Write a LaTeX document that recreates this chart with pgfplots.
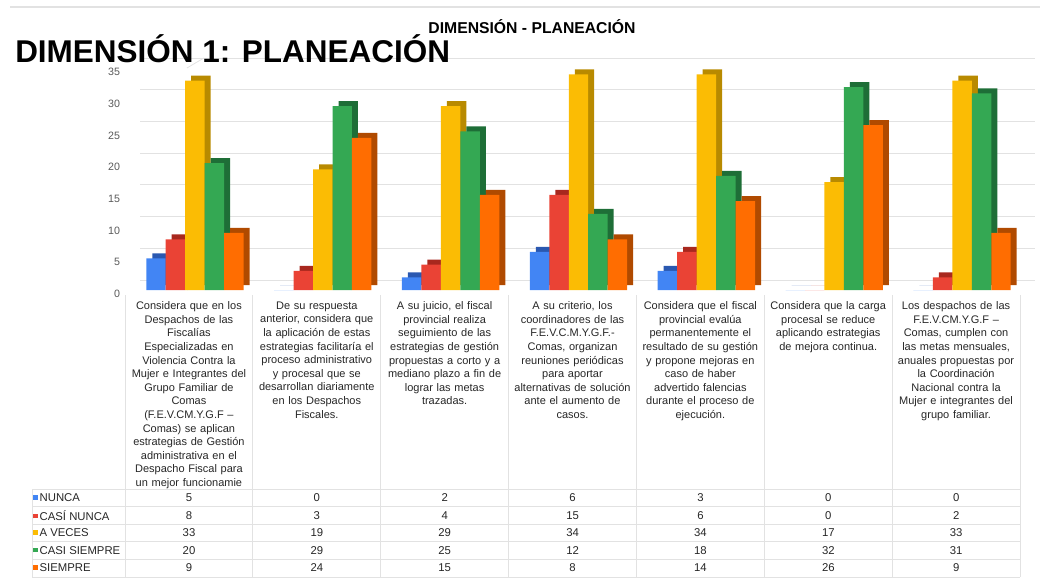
\documentclass[border=0pt]{standalone}
\usepackage{fontspec}
\setmainfont{Liberation Sans}
\usepackage{pgfplots}
\pgfplotsset{compat=1.18}
\usepackage{pgfplotstable}
\definecolor{bluef}{HTML}{4285F4}\definecolor{blueb}{HTML}{2A58B0}
\definecolor{redf}{HTML}{EA4335}\definecolor{redb}{HTML}{A8281E}
\definecolor{yelf}{HTML}{FBBC04}\definecolor{yelb}{HTML}{B88A00}
\definecolor{grnf}{HTML}{34A853}\definecolor{grnb}{HTML}{1E6E37}
\definecolor{orgf}{HTML}{FF6D01}\definecolor{orgb}{HTML}{B04A00}
\definecolor{gridc}{HTML}{E2E2E2}
\pgfplotstableread{
x nunca casinunca aveces casisiempre siempre
0 5 8 33 20 9
1 0 3 19 29 24
2 2 4 29 25 15
3 6 15 34 12 8
4 3 6 34 18 14
5 0 0 17 32 26
6 0 2 33 31 9
}\datatable
\begin{document}
\begin{tikzpicture}
\useasboundingbox (0,0) rectangle (780pt,-435.75pt);
\begin{scope}[x=0.75pt,y=-0.75pt]
  \draw[gridc, line width=0.8pt] (10,7) -- (1040,7);
\end{scope}
\begin{axis}[
  at={(93.75pt,-217.5pt)}, anchor=south west,
  scale only axis, width=671.25pt, height=166.5pt,
  xmin=-0.5, xmax=6.5, ymin=0, ymax=35,
  ybar, bar width=14.6pt,
  ytick={0,5,...,35},
  xtick={0,...,6},
  xticklabels={
    {Considera que en los\\Despachos de las\\Fiscalías\\Especializadas en\\Violencia Contra la\\Mujer e Integrantes del\\Grupo Familiar de\\Comas\\(F.E.V.CM.Y.G.F –\\Comas) se aplican\\estrategias de Gestión\\administrativa en el\\Despacho Fiscal para\\un mejor funcionamie},
    {De su respuesta\\anterior, considera que\\la aplicación de estas\\estrategias facilitaría el\\proceso administrativo\\y procesal que se\\desarrollan diariamente\\en los Despachos\\Fiscales.},
    {A su juicio, el fiscal\\provincial realiza\\seguimiento de las\\estrategias de gestión\\propuestas a corto y a\\mediano plazo a fin de\\lograr las metas\\trazadas.},
    {A su criterio, los\\coordinadores de las\\F.E.V.C.M.Y.G.F.-\\Comas, organizan\\reuniones periódicas\\para aportar\\alternativas de solución\\ante el aumento de\\casos.},
    {Considera que el fiscal\\provincial evalúa\\permanentemente el\\resultado de su gestión\\y propone mejoras en\\caso de haber\\advertido falencias\\durante el proceso de\\ejecución.},
    {Considera que la carga\\procesal se reduce\\aplicando estrategias\\de mejora continua.},
    {Los despachos de las\\F.E.V.CM.Y.G.F –\\Comas, cumplen con\\las metas mensuales,\\anuales propuestas por\\la Coordinación\\Nacional contra la\\Mujer e integrantes del\\grupo familiar.}
  },
  xticklabel style={font=\fontsize{8.25}{10.2}\selectfont, text=black!85, align=center, anchor=north, text width=94pt, yshift=-1pt},
  yticklabel style={font=\fontsize{8}{9}\selectfont, text=black!65, xshift=-3pt, yshift=-3pt, inner sep=0.5pt},
  /pgf/number format/assume math mode=true,
  axis line style={draw=none}, major tick style={draw=none},
  ymajorgrids, major grid style={draw=gridc, line width=0.6pt, xshift=11.25pt, yshift=7.5pt},
  clip=false,
]
\pgfplotsinvokeforeach{0,5,...,35}{\draw[gridc, line width=0.6pt] (axis cs:-0.5,#1) ++(-1.5pt,0) -- ++(12.75pt,7.5pt);}
\addplot[fill=blueb, draw=none, bar shift=-24.7pt, xshift=4.5pt, yshift=3.75pt] table[x=x,y=nunca]{\datatable};
\addplot[fill=bluef, draw=none, bar shift=-24.7pt] table[x=x,y=nunca]{\datatable};
\addplot[fill=redb, draw=none, bar shift=-10.1pt, xshift=4.5pt, yshift=3.75pt] table[x=x,y=casinunca]{\datatable};
\addplot[fill=redf, draw=none, bar shift=-10.1pt] table[x=x,y=casinunca]{\datatable};
\addplot[fill=yelb, draw=none, bar shift=4.5pt, xshift=4.5pt, yshift=3.75pt] table[x=x,y=aveces]{\datatable};
\addplot[fill=yelf, draw=none, bar shift=4.5pt] table[x=x,y=aveces]{\datatable};
\addplot[fill=grnb, draw=none, bar shift=19.1pt, xshift=4.5pt, yshift=3.75pt] table[x=x,y=casisiempre]{\datatable};
\addplot[fill=grnf, draw=none, bar shift=19.1pt] table[x=x,y=casisiempre]{\datatable};
\addplot[fill=orgb, draw=none, bar shift=33.7pt, xshift=4.5pt, yshift=3.75pt] table[x=x,y=siempre]{\datatable};
\addplot[fill=orgf, draw=none, bar shift=33.7pt] table[x=x,y=siempre]{\datatable};
\end{axis}
\begin{scope}[x=0.75pt,y=-0.75pt]
  % titles
  \node[anchor=base, inner sep=0, font=\bfseries\fontsize{11.8}{14}\selectfont] at (532,34) {DIMENSIÓN - PLANEACIÓN};
  \node[anchor=base west, inner sep=0, font=\bfseries\fontsize{23.6}{28}\selectfont] at (15,63) {DIMENSIÓN 1: PLANEACIÓN};
  % table grid
  \foreach \yy in {489,506.5,524,541.5,559,577} {\draw[gridc, line width=0.7pt] (32,\yy) -- (1020,\yy);}
  \foreach \k in {0,...,7} {\draw[gridc, line width=0.7pt] (125+127.86*\k,295) -- (125+127.86*\k,577);}
  \draw[gridc, line width=0.7pt] (32,489) -- (32,577);
  % row labels
  \begin{scope}[every node/.style={font=\fontsize{8.5}{10}\selectfont, text=black!85, inner sep=0}]
  \node[anchor=west] at (33,498) {\textcolor{bluef}{\raisebox{1.5pt}{\rule{3.6pt}{3.6pt}}}\hspace{1.2pt}NUNCA};
  \node[anchor=west] at (33,515.5) {\textcolor{redf}{\raisebox{1.5pt}{\rule{3.6pt}{3.6pt}}}\hspace{1.2pt}CASÍ NUNCA};
  \node[anchor=west] at (33,533) {\textcolor{yelf}{\raisebox{1.5pt}{\rule{3.6pt}{3.6pt}}}\hspace{1.2pt}A VECES};
  \node[anchor=west] at (33,550.5) {\textcolor{grnf}{\raisebox{1.5pt}{\rule{3.6pt}{3.6pt}}}\hspace{1.2pt}CASI SIEMPRE};
  \node[anchor=west] at (33,568) {\textcolor{orgf}{\raisebox{1.5pt}{\rule{3.6pt}{3.6pt}}}\hspace{1.2pt}SIEMPRE};
  \foreach \v [count=\i from 0] in {5,0,2,6,3,0,0} {\node at (189+127.86*\i,498) {\v};}
  \foreach \v [count=\i from 0] in {8,3,4,15,6,0,2} {\node at (189+127.86*\i,515.5) {\v};}
  \foreach \v [count=\i from 0] in {33,19,29,34,34,17,33} {\node at (189+127.86*\i,533) {\v};}
  \foreach \v [count=\i from 0] in {20,29,25,12,18,32,31} {\node at (189+127.86*\i,550.5) {\v};}
  \foreach \v [count=\i from 0] in {9,24,15,8,14,26,9} {\node at (189+127.86*\i,568) {\v};}
  \end{scope}
\end{scope}
\end{tikzpicture}
\end{document}
